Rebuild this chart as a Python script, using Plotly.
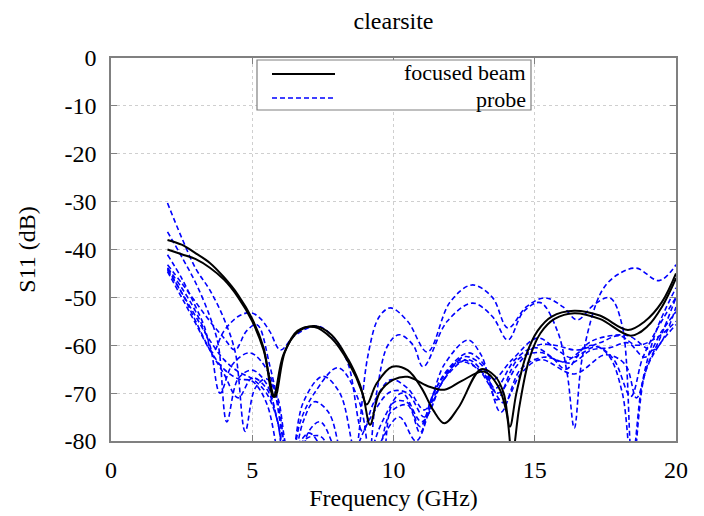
import plotly.graph_objects as go

# ---------------- data ----------------
fb1_f = [2, 2.5, 3, 3.5, 4, 4.5, 5, 5.4, 5.75, 6.1, 6.6, 7.2, 7.8, 8.4, 8.8, 9.05, 9.4, 9.95, 10.5, 11.0,
         11.4, 11.8, 12.3, 13.1, 13.6, 13.9, 14.12, 14.35, 14.7, 15.1, 15.6, 16.4, 17.3, 18.3, 18.9, 19.5, 20]
fb1_s = [-38, -39, -40.8, -42.8, -45.8, -49.5, -54.5, -60.5, -70.8, -62, -57.3, -56, -57.8, -63, -68, -72.4, -68, -64.5, -65.2, -69,
         -73.5, -76.3, -73, -65, -66.5, -70, -77, -70, -62, -57, -54, -52.8, -53.8, -56.8, -55, -51, -45]

fb2_f = [2, 2.5, 3, 3.5, 4, 4.5, 5, 5.4, 5.8, 6.15, 6.6, 7.2, 7.8, 8.4, 8.9, 9.17, 9.5, 10.0, 10.5, 11.2,
         11.8, 12.4, 13.2, 13.7, 14.0, 14.2, 14.45, 14.8, 15.2, 15.7, 16.4, 17.3, 18.4, 19.0, 19.5, 20]
fb2_s = [-40, -41, -42, -43.8, -46.3, -50, -55, -61, -70.8, -61.5, -57, -56.2, -58.5, -63.5, -70, -76.6, -70, -67.2, -66.6, -68.5,
         -69.3, -67.5, -65.5, -68.5, -74, -83, -73, -63, -57.5, -54.5, -53.3, -54.5, -58, -56, -52, -46]

pr1_f = [2, 2.5, 3, 3.5, 4, 4.4, 4.75, 5.1, 5.5, 5.9, 6.3, 6.7, 7.0, 7.3, 7.8, 8.3, 8.7, 9.1, 9.5, 9.9,
         10.5, 11.2, 12.0, 12.78, 13.5, 14.05, 14.7, 15.36, 16.0, 16.5, 17.1, 17.66, 18.1, 18.45, 18.8, 19.3, 20]
pr1_s = [-30.3, -37.5, -44, -48.5, -54.5, -61.5, -78, -69, -67, -71, -82, -80, -78.3, -80, -90, -95, -82, -62, -54, -52.2,
         -55, -61.4, -51, -47.4, -50, -56.4, -52, -50.1, -52, -54.7, -51.5, -50.1, -56, -84, -68, -57, -48]

pr2_f = [2, 2.5, 3, 3.5, 3.8, 4.1, 4.5, 5.0, 5.5, 5.9, 6.3, 6.8, 7.5, 8.1, 8.6, 9.0, 9.4, 9.8, 10.2, 10.7,
         11.05, 11.9, 12.8, 13.5, 14.05, 14.6, 15.2, 15.8, 16.15, 16.4, 16.7, 17.4, 18.0, 18.6, 19.4, 20]
pr2_s = [-36.3, -41.5, -47, -54, -60, -76, -67, -65.2, -68, -76, -88, -72, -66.5, -70, -82, -88, -70, -60, -57.8, -60,
         -64.5, -55, -51.2, -54, -58.9, -53, -51.1, -57, -66, -77.3, -62, -48.4, -45, -43.9, -46.5, -43.2]

pr3_f = [2, 2.5, 3, 3.3, 3.6, 4.0, 4.5, 4.95, 5.3, 5.63, 6.0, 6.5, 7.3, 7.9, 8.4, 8.9, 9.3, 9.9, 10.5, 11.1,
         11.8, 12.64, 13.1, 13.5, 14.2, 15.1, 15.8, 16.3, 17.2, 17.8, 18.4, 18.8, 19.2, 20]
pr3_s = [-41.1, -46, -52, -56, -61.5, -57, -54, -53.2, -54.5, -57.2, -61, -58, -56, -58.5, -64, -78, -72, -67.2, -69, -73.5,
         -64, -58.9, -62, -67.2, -63, -58.5, -61, -62.6, -60.3, -63, -70.7, -63, -58, -50]

pr4_f = [2, 2.5, 3, 3.5, 4.0, 4.39, 4.8, 5.17, 5.63, 6.0, 6.3, 6.7, 7.2, 8.04, 8.8, 9.3, 9.9, 10.5, 10.94, 11.3,
         11.8, 12.64, 13.2, 13.65, 14.4, 15.2, 16.0, 17.0, 17.6, 18.1, 18.45, 18.9, 19.4, 20]
pr4_s = [-43.2, -47, -51, -55, -58.5, -61, -57, -55.7, -64.5, -75, -88, -76, -70, -64.7, -72, -88, -74, -72.5, -78.3, -72,
         -66, -61.6, -64, -71.4, -63, -61.5, -63.5, -60, -62, -70, -86, -66, -60, -55.7]

pr5_f = [2, 2.5, 3, 3.5, 3.86, 4.3, 4.92, 5.6, 6.1, 6.5, 7.0, 7.4, 7.8, 8.2, 8.8, 9.3, 9.9, 10.5, 11.1, 11.8,
         12.64, 13.3, 13.8, 14.5, 15.3, 16.3, 17.0, 17.66, 18.3, 18.9, 19.5, 20]
pr5_s = [-43.8, -48, -53, -60, -70, -64, -61.6, -66, -80, -90, -78, -76, -80, -90, -80, -74, -69.7, -70, -75, -67,
         -63, -67, -74, -65, -62.5, -63.7, -61, -60.5, -59.5, -62.5, -57, -53]

pr6_f = [2, 2.5, 3, 3.5, 4.0, 4.5, 5.0, 5.5, 5.9, 6.3, 6.8, 7.2, 7.7, 8.1, 8.5, 9.0, 9.6, 10.3, 11.0, 11.7,
         12.5, 13.1, 13.6, 14.3, 15.0, 15.6, 16.1, 16.8, 17.3, 18.3, 19.2, 20]
pr6_s = [-44, -49, -55, -61, -66, -71, -66.8, -69, -76, -88, -76, -71.8, -74, -82, -92, -86, -76, -70, -76, -68,
         -62.4, -64, -69, -63, -60.5, -62.5, -65, -60, -58.5, -58, -61, -52]

pr7_f = [2, 2.5, 3, 3.5, 4, 4.5, 5.0, 5.5, 5.9, 6.2, 6.8, 7.4, 8.0, 8.6, 9.4, 10.2, 10.8, 11.5, 12.35, 13.2,
         13.9, 14.5, 15.2, 16.4, 17.5, 18.2, 18.6, 19.0, 19.4, 20]
pr7_s = [-44.3, -49, -54, -59, -63, -65.5, -67, -70, -76, -88, -80, -79, -86, -95, -82, -75, -80, -70, -63.5, -66,
         -72, -66, -63, -66, -62, -64, -71, -64, -59, -50]

pr8_f = [2, 2.5, 3, 3.5, 4, 4.5, 5, 5.5, 6.0, 6.6, 7.3, 8.0, 9.3, 10.0, 10.5, 10.94, 11.5, 12.4, 13.0, 13.7,
         14.4, 15.1, 15.7, 16.5, 17.3, 18.0, 18.6, 19.3, 20]
pr8_s = [-44.6, -50, -55.5, -61, -65, -67, -67.5, -72, -85, -95, -84, -90, -95, -72, -72, -77, -69, -63, -65, -70,
         -64, -60, -60, -61, -59.5, -58, -60, -58.5, -55]

focused = [(fb1_f, fb1_s), (fb2_f, fb2_s)]
probes = [(pr1_f, pr1_s), (pr2_f, pr2_s), (pr3_f, pr3_s), (pr4_f, pr4_s),
          (pr5_f, pr5_s), (pr6_f, pr6_s), (pr7_f, pr7_s), (pr8_f, pr8_s)]

x_ticks = [0, 5, 10, 15, 20]
x_ticklabels = ["0", "5", "10", "15", "20"]
y_ticks = [0, -10, -20, -30, -40, -50, -60, -70, -80]
y_ticklabels = ["0", "-10", "-20", "-30", "-40", "-50", "-60", "-70", "-80"]

FONT = "Liberation Serif, Times New Roman, serif"
BLUE = "#0000ff"

fig = go.Figure()
for f, s in probes:
    fig.add_trace(go.Scatter(x=f, y=s, mode="lines", showlegend=False,
                             line=dict(color=BLUE, width=1.6, dash="5px,3px", shape="spline", smoothing=1.0)))
for f, s in focused:
    fig.add_trace(go.Scatter(x=f, y=s, mode="lines", showlegend=False,
                             line=dict(color="black", width=2, shape="spline", smoothing=1.0)))

axis_common = dict(showline=True, linecolor="#808080", linewidth=1.5, mirror="ticks",
                   ticks="inside", ticklen=6, tickcolor="#808080",
                   showgrid=True, gridcolor="#cfcfcf", griddash="dot", gridwidth=1,
                   zeroline=False, automargin=False,
                   tickfont=dict(family=FONT, size=24, color="black"))

fig.update_xaxes(range=[0, 20], tickvals=x_ticks, ticktext=x_ticklabels, ticklabelstandoff=6,
                 title=dict(text="Frequency (GHz)", font=dict(family=FONT, size=24, color="black"), standoff=8),
                 **axis_common)
fig.update_yaxes(range=[-80, 0], tickvals=y_ticks, ticktext=y_ticklabels, ticklabelstandoff=8,
                 title=dict(text="S11 (dB)", font=dict(family=FONT, size=24, color="black"), standoff=22),
                 **axis_common)

# legend drawn as a boxed key (paper coordinates, from page pixels of the plot frame)
def px_x(p):
    return (p - 111) / 565.0

def px_y(p):
    return (441 - p) / 383.0

shapes = [
    dict(type="rect", xref="paper", yref="paper", x0=px_x(257), x1=px_x(531), y0=px_y(110), y1=px_y(60),
         line=dict(color="#808080", width=1.2), fillcolor="white", layer="above"),
    dict(type="line", xref="paper", yref="paper", x0=px_x(272), x1=px_x(335), y0=px_y(74), y1=px_y(74),
         line=dict(color="black", width=2), layer="above"),
    dict(type="line", xref="paper", yref="paper", x0=px_x(272), x1=px_x(335), y0=px_y(98), y1=px_y(98),
         line=dict(color=BLUE, width=1.6, dash="5px,3px"), layer="above"),
]
annotations = [
    dict(text="focused beam", xref="paper", yref="paper", x=px_x(528), y=px_y(73), xanchor="right", yanchor="middle",
         showarrow=False, font=dict(family=FONT, size=22, color="black")),
    dict(text="probe", xref="paper", yref="paper", x=px_x(528), y=px_y(99), xanchor="right", yanchor="middle",
         showarrow=False, font=dict(family=FONT, size=22, color="black")),
]

# the page body adds an 8px offset; size the figure so the plot frame lands at the reference pixels
fig.update_layout(
    width=696, height=508,
    margin=dict(l=103, r=28, t=50, b=75),
    paper_bgcolor="white", plot_bgcolor="white",
    title=dict(text="clearsite", x=385.5 / 696, xanchor="center", y=1 - 13 / 508, yanchor="middle",
               xref="container", yref="container", font=dict(family=FONT, size=24, color="black")),
    showlegend=False,
    shapes=shapes, annotations=annotations,
)

fig.write_html("out.html")
